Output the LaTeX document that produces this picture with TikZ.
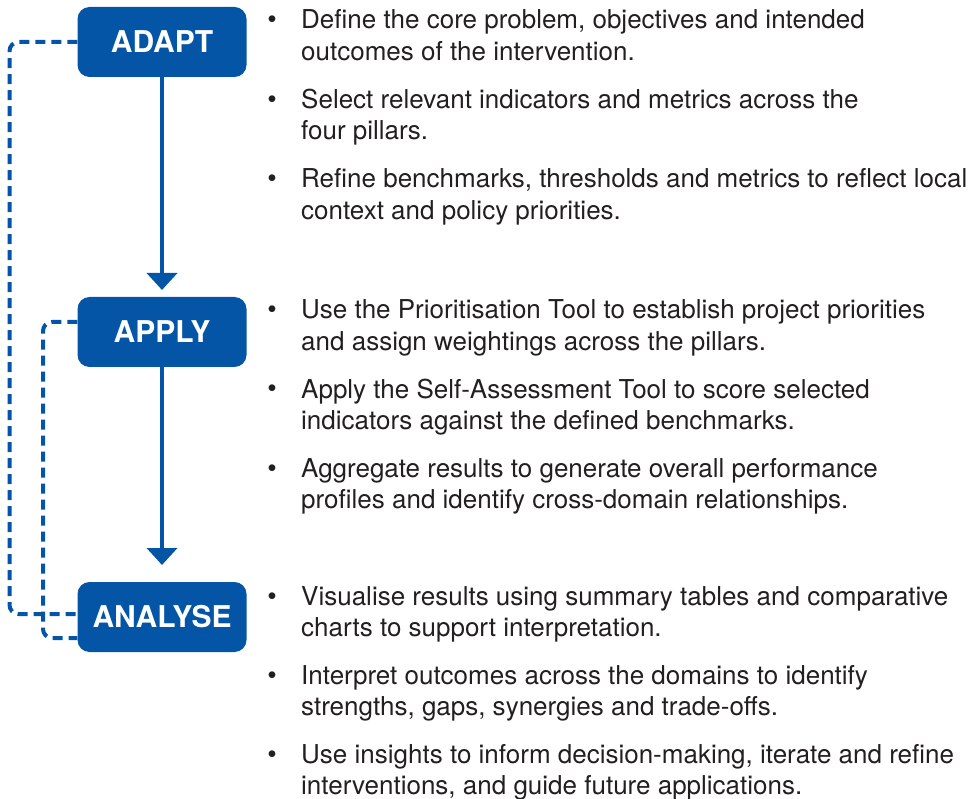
\documentclass[tikz,border=0pt]{standalone}
\usepackage{fontspec}
\setmainfont{TeX Gyre Heros}
\usetikzlibrary{arrows.meta,calc}
\definecolor{boxblue}{RGB}{4,85,165}
\definecolor{txt}{RGB}{35,31,32}
\begin{document}
\begin{tikzpicture}[x=1pt,y=-1pt,
  stage/.style={fill=boxblue,rounded corners=12pt,minimum width=169pt,minimum height=70pt,inner sep=0pt,text=white,font=\fontsize{30}{32}\selectfont\bfseries},
  flow/.style={boxblue,line width=4pt,-{Triangle[width=30pt,length=17pt]}},
  loop/.style={boxblue,line width=4pt,dash pattern=on 10pt off 6pt,rounded corners=9pt},
  item/.style={anchor=base west,inner sep=0pt,align=left,text=txt,font=\fontsize{26}{31.5}\selectfont},
  dot/.style={anchor=base,inner sep=0pt,text=txt,font=\fontsize{27}{31.5}\selectfont}]
\useasboundingbox (0,0) rectangle (969,799);
\node[stage] (adapt) at (162,42) {ADAPT};
\node[stage] (apply) at (162,332) {APPLY};
\node[stage] (analyse) at (162,617) {ANALYSE};
\coordinate (t1) at (162,290);
\coordinate (t2) at (162,565);
\draw[flow] (adapt.south) -- (t1);
\draw[flow] (apply.south) -- (t2);
\draw[loop] (adapt.west) -| (9.5,300) |- ([yshift=3pt]analyse.west);
\draw[loop] ([yshift=10pt]apply.west) -| (43,500) |- ([yshift=-21pt]analyse.west);
% ADAPT items
\node[dot] (b1) at (272,29) {\textbullet};
\node[item] (i1) at (301,60.5) {Define the core problem, objectives and intended\\outcomes of the intervention.};
\node[dot] (b2) at (272,108.5) {\textbullet};
\node[item] (i2) at (301,140) {Select relevant indicators and metrics across the\\four pillars.};
\node[dot] (b3) at (272,188) {\textbullet};
\node[item] (i3) at (301,219.5) {Refine benchmarks, thresholds and metrics to reflect local\\context and policy priorities.};
% APPLY items
\node[dot] (b4) at (272,319) {\textbullet};
\node[item] (i4) at (301,350.5) {Use the Prioritisation Tool to establish project priorities\\and assign weightings across the pillars.};
\node[dot] (b5) at (272,398) {\textbullet};
\node[item] (i5) at (301,429.5) {Apply the Self-Assessment Tool to score selected\\indicators against the defined benchmarks.};
\node[dot] (b6) at (272,477) {\textbullet};
\node[item] (i6) at (301,508.5) {Aggregate results to generate overall performance\\profiles and identify cross-domain relationships.};
% ANALYSE items
\node[dot] (b7) at (272,605) {\textbullet};
\node[item] (i7) at (301,636.5) {Visualise results using summary tables and comparative\\charts to support interpretation.};
\node[dot] (b8) at (272,684) {\textbullet};
\node[item] (i8) at (301,715.5) {Interpret outcomes across the domains to identify\\strengths, gaps, synergies and trade-offs.};
\node[dot] (b9) at (272,763) {\textbullet};
\node[item] (i9) at (301,794.5) {Use insights to inform decision-making, iterate and refine\\interventions, and guide future applications.};
\end{tikzpicture}
\end{document}
